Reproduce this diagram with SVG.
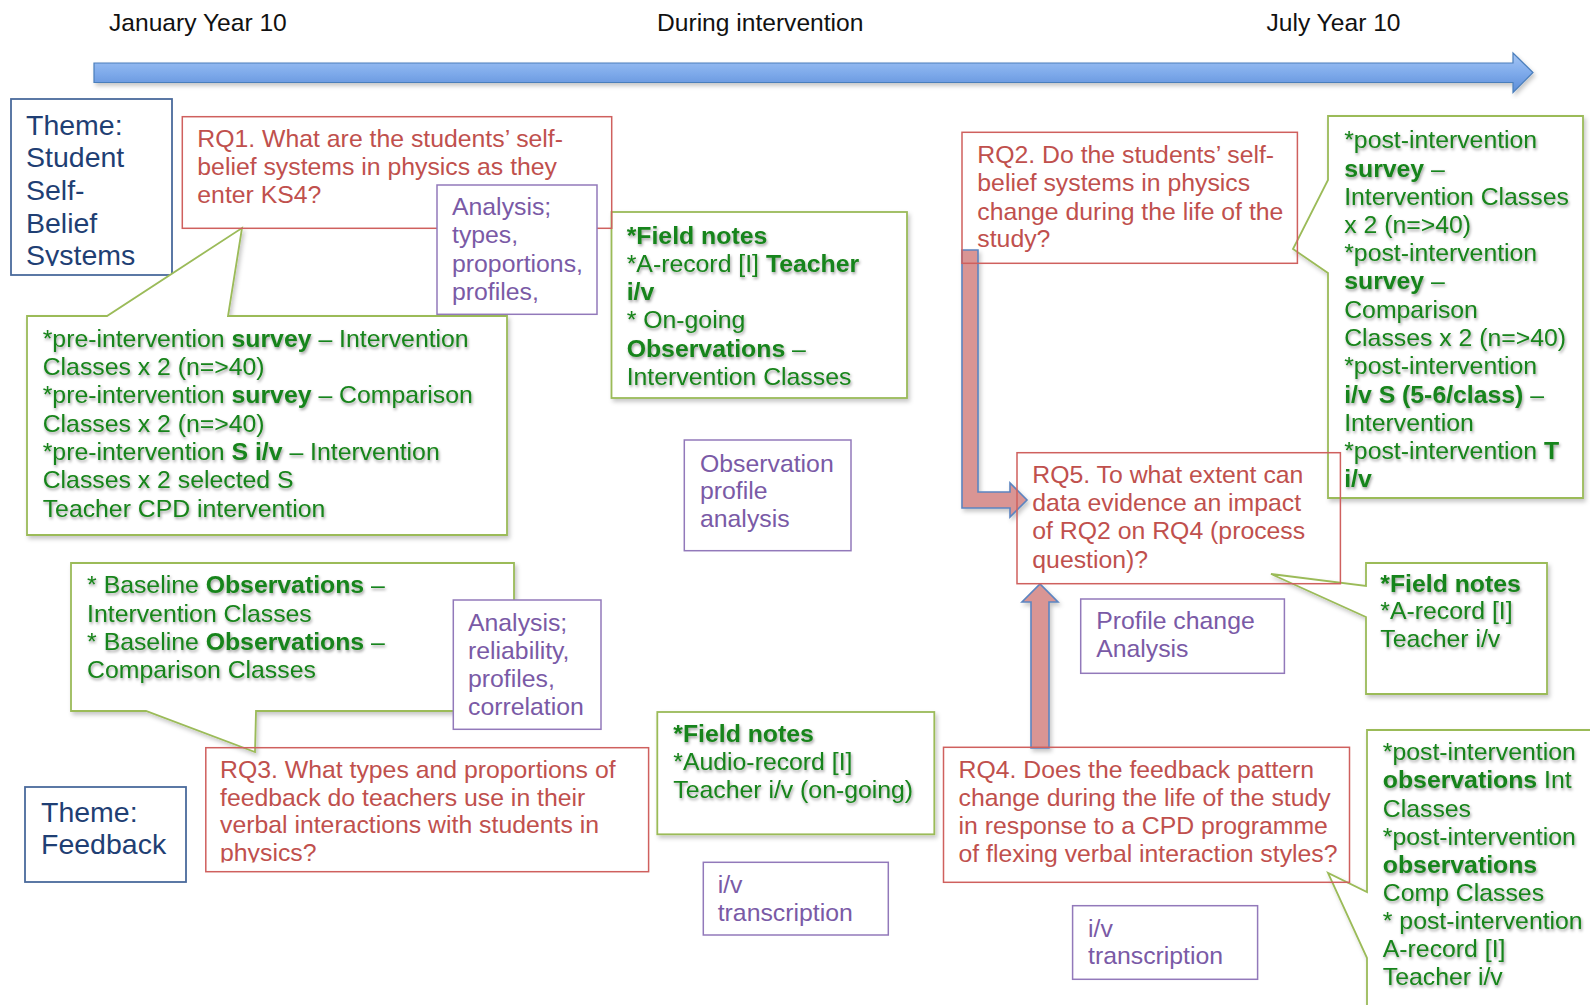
<svg xmlns="http://www.w3.org/2000/svg" width="1590" height="1005" viewBox="0 0 1590 1005">
  <defs>
    <style>
      .t { font-family: "Liberation Sans", Arial, Helvetica, sans-serif; font-size: 24.8px; }
      .theme { font-size: 28.5px; fill: #1f3f74; }
      .time { fill: #111; font-size: 24.6px; }
      .red { fill: #c0504d; }
      .pur { fill: #7a5aa6; }
      .grn { fill: #18841a; }
      .b { font-weight: bold; }
      .box-red { fill: none; stroke: #cf605e; stroke-width: 1.5; }
      .box-pur { fill: #fff; stroke: #9279ba; stroke-width: 1.5; }
      .box-grn { fill: #fff; stroke: #9bbb59; stroke-width: 1.8; }
      .box-blu { fill: #fff; stroke: #4a6a9c; stroke-width: 1.8; }
      .blk-arrow { fill: #d99594; stroke: #5b84c0; stroke-width: 1.6; }
    </style>
    <linearGradient id="timeFill" x1="0" y1="0" x2="0" y2="1">
      <stop offset="0" stop-color="#a6c6f4"/>
      <stop offset="0.5" stop-color="#7fabeb"/>
      <stop offset="1" stop-color="#5c8dd8"/>
    </linearGradient>
    <filter id="softShadow" x="-5%" y="-5%" width="115%" height="120%">
      <feDropShadow dx="2" dy="3" stdDeviation="2" flood-color="#000" flood-opacity="0.22"/>
    </filter>
    <filter id="textShadow" x="-5%" y="-10%" width="115%" height="130%">
      <feDropShadow dx="1" dy="2" stdDeviation="1.5" flood-color="#000" flood-opacity="0.38"/>
    </filter>
    <clipPath id="clipTheme1"><rect x="11" y="99" width="161" height="167"/></clipPath>
    <clipPath id="clipRq3"><rect x="206" y="748" width="443" height="114.5"/></clipPath>
  </defs>

  <rect width="1590" height="1005" fill="#fff"/>

  <!-- timeline -->
  <g id="timeline">
    <text class="t time" x="109" y="30.5">January Year 10</text>
    <text class="t time" x="657" y="30.5">During intervention</text>
    <text class="t time" x="1266.5" y="30.5">July Year 10</text>
    <path d="M94,63 L1513,63 L1513,53 L1533,72.5 L1513,92.5 L1513,82.5 L94,82.5 Z" fill="url(#timeFill)" stroke="#4a7ebb" stroke-width="1.2" filter="url(#softShadow)"/>
  </g>

  <!-- theme labels -->
  <g id="theme-self-belief">
    <rect class="box-blu" x="11" y="99" width="161" height="176"/>
    <g clip-path="url(#clipTheme1)">
      <text class="t theme" x="26" y="135">Theme:</text>
      <text class="t theme" x="26" y="167">Student</text>
      <text class="t theme" x="26" y="199.5">Self-</text>
      <text class="t theme" x="26" y="232.5">Belief</text>
      <text class="t theme" x="26" y="265">Systems</text>
    </g>
  </g>
  <g id="theme-feedback">
    <rect class="box-blu" x="25" y="787" width="161" height="95"/>
    <text class="t theme" x="41" y="821.5">Theme:</text>
    <text class="t theme" x="41" y="853.5">Feedback</text>
  </g>

  <!-- data collection callouts -->
  <g id="pre-intervention-data">
    <path class="box-grn" filter="url(#softShadow)" d="M27,316 L107,316 L242,228 L228,316 L507,316 L507,535 L27,535 Z"/>
    <g class="t grn" filter="url(#textShadow)">
      <text x="42.7" y="346.7">*pre-intervention <tspan class="b">survey</tspan> – Intervention</text>
      <text x="42.7" y="375">Classes x 2 (n=&gt;40)</text>
      <text x="42.7" y="403.3">*pre-intervention <tspan class="b">survey</tspan> – Comparison</text>
      <text x="42.7" y="431.7">Classes x 2 (n=&gt;40)</text>
      <text x="42.7" y="460">*pre-intervention <tspan class="b">S i/v</tspan> – Intervention</text>
      <text x="42.7" y="488.3">Classes x 2 selected S</text>
      <text x="42.7" y="516.7">Teacher CPD intervention</text>
    </g>
  </g>

  <g id="field-notes-ongoing">
    <rect class="box-grn" filter="url(#softShadow)" x="611.5" y="212" width="295.5" height="186"/>
    <g class="t grn" filter="url(#textShadow)">
      <text x="626.7" y="244"><tspan class="b">*Field notes</tspan></text>
      <text x="626.7" y="271.7">*A-record [I] <tspan class="b">Teacher</tspan></text>
      <text x="626.7" y="299.5"><tspan class="b">i/v</tspan></text>
      <text x="626.7" y="328.3">* On-going</text>
      <text x="626.7" y="356.7"><tspan class="b">Observations</tspan> –</text>
      <text x="626.7" y="385">Intervention Classes</text>
    </g>
  </g>

  <g id="post-intervention-data">
    <path class="box-grn" filter="url(#softShadow)" d="M1328,116 L1583,116 L1583,498 L1328,498 L1328,273 L1293,249 L1328,180 Z"/>
    <g class="t grn" filter="url(#textShadow)">
      <text x="1344.2" y="148.3">*post-intervention</text>
      <text x="1344.2" y="176.7"><tspan class="b">survey</tspan> –</text>
      <text x="1344.2" y="205">Intervention Classes</text>
      <text x="1344.2" y="232.7">x 2 (n=&gt;40)</text>
      <text x="1344.2" y="261">*post-intervention</text>
      <text x="1344.2" y="289.3"><tspan class="b">survey</tspan> –</text>
      <text x="1344.2" y="317.7">Comparison</text>
      <text x="1344.2" y="346">Classes x 2 (n=&gt;40)</text>
      <text x="1344.2" y="374">*post-intervention</text>
      <text x="1344.2" y="402.7"><tspan class="b">i/v S (5-6/class)</tspan> –</text>
      <text x="1344.2" y="431">Intervention</text>
      <text x="1344.2" y="459.3">*post-intervention <tspan class="b">T</tspan></text>
      <text x="1344.2" y="486.7"><tspan class="b">i/v</tspan></text>
    </g>
  </g>

  <g id="field-notes-rq5">
    <path class="box-grn" filter="url(#softShadow)" d="M1366,563 L1547,563 L1547,694 L1366,694 L1366,617 L1271,574 L1366,586 Z"/>
    <g class="t grn" filter="url(#textShadow)">
      <text x="1380.3" y="591.7"><tspan class="b">*Field notes</tspan></text>
      <text x="1380.3" y="619">*A-record [I]</text>
      <text x="1380.3" y="646.7">Teacher i/v</text>
    </g>
  </g>

  <g id="baseline-observations">
    <path class="box-grn" filter="url(#softShadow)" d="M71,563 L514,563 L514,711 L256,711 L255,752 L146,711 L71,711 Z"/>
    <g class="t grn" filter="url(#textShadow)">
      <text x="87.1" y="593.3">* Baseline <tspan class="b">Observations</tspan> –</text>
      <text x="87.1" y="621.7">Intervention Classes</text>
      <text x="87.1" y="650">* Baseline <tspan class="b">Observations</tspan> –</text>
      <text x="87.1" y="678.3">Comparison Classes</text>
    </g>
  </g>

  <g id="field-notes-audio">
    <rect class="box-grn" filter="url(#softShadow)" x="657.3" y="712" width="277" height="122.3"/>
    <g class="t grn" filter="url(#textShadow)">
      <text x="673.3" y="741.7"><tspan class="b">*Field notes</tspan></text>
      <text x="673.3" y="770">*Audio-record [I]</text>
      <text x="673.3" y="798.3">Teacher i/v (on-going)</text>
    </g>
  </g>

  <g id="post-intervention-observations">
    <path class="box-grn" filter="url(#softShadow)" d="M1367,730 L1600,730 L1600,1012 L1367,1012 L1367,958 L1328,873 L1367,892 Z"/>
    <g class="t grn" filter="url(#textShadow)">
      <text x="1382.8" y="760">*post-intervention</text>
      <text x="1382.8" y="788.3"><tspan class="b">observations</tspan> Int</text>
      <text x="1382.8" y="816.7">Classes</text>
      <text x="1382.8" y="845">*post-intervention</text>
      <text x="1382.8" y="873.3"><tspan class="b">observations</tspan></text>
      <text x="1382.8" y="901">Comp Classes</text>
      <text x="1382.8" y="929.3">* post-intervention</text>
      <text x="1382.8" y="957.3">A-record [I]</text>
      <text x="1382.8" y="985">Teacher i/v</text>
    </g>
  </g>

  <!-- block arrows between research questions -->
  <g id="connectors" filter="url(#softShadow)">
    <path class="blk-arrow" d="M962,250 L978,250 L978,492 L1010,492 L1010,483 L1027,500 L1010,517 L1010,508 L962,508 Z"/>
    <path class="blk-arrow" d="M1031,748 L1031,602 L1022,602 L1040,584 L1058,602 L1049,602 L1049,748 Z"/>
  </g>

  <!-- research questions -->
  <g id="rq1">
    <rect class="box-red" x="182.3" y="116.7" width="429.4" height="111.6"/>
    <g class="t red">
      <text x="197.3" y="146.7">RQ1. What are the students’ self-</text>
      <text x="197.3" y="175">belief systems in physics as they</text>
      <text x="197.3" y="203.3">enter KS4?</text>
    </g>
  </g>

  <g id="rq2">
    <rect class="box-red" x="962" y="132.3" width="335.4" height="131"/>
    <g class="t red">
      <text x="977.3" y="163.3">RQ2. Do the students’ self-</text>
      <text x="977.3" y="191">belief systems in physics</text>
      <text x="977.3" y="220">change during the life of the</text>
      <text x="977.3" y="246.7">study?</text>
    </g>
  </g>

  <g id="rq5">
    <rect class="box-red" x="1017" y="452.7" width="323.4" height="131"/>
    <g class="t red">
      <text x="1032.3" y="483.3">RQ5. To what extent can</text>
      <text x="1032.3" y="510.5">data evidence an impact</text>
      <text x="1032.3" y="539">of RQ2 on RQ4 (process</text>
      <text x="1032.3" y="567.7">question)?</text>
    </g>
  </g>

  <g id="rq3">
    <rect class="box-red" x="205.8" y="747.7" width="442.8" height="124"/>
    <g class="t red" clip-path="url(#clipRq3)">
      <text x="220" y="777.7">RQ3. What types and proportions of</text>
      <text x="220" y="805.7">feedback do teachers use in their</text>
      <text x="220" y="833.3">verbal interactions with students in</text>
      <text x="220" y="860.7">physics?</text>
    </g>
  </g>

  <g id="rq4">
    <rect class="box-red" x="943.5" y="747.3" width="406" height="135"/>
    <g class="t red">
      <text x="958.5" y="777.7">RQ4. Does the feedback pattern</text>
      <text x="958.5" y="806">change during the life of the study</text>
      <text x="958.5" y="834.3">in response to a CPD programme</text>
      <text x="958.5" y="862">of flexing verbal interaction styles?</text>
    </g>
  </g>

  <!-- analysis notes -->
  <g id="analysis-types">
    <rect class="box-pur" x="437" y="185" width="160" height="129.3"/>
    <g class="t pur">
      <text x="452" y="215">Analysis;</text>
      <text x="452" y="243.3">types,</text>
      <text x="452" y="271.7">proportions,</text>
      <text x="452" y="300">profiles,</text>
    </g>
  </g>

  <g id="observation-profile">
    <rect class="box-pur" x="684.3" y="440" width="166.7" height="110.7"/>
    <g class="t pur">
      <text x="700" y="471.7">Observation</text>
      <text x="700" y="499">profile</text>
      <text x="700" y="527.3">analysis</text>
    </g>
  </g>

  <g id="profile-change">
    <rect class="box-pur" x="1080.7" y="599" width="203.7" height="74.3"/>
    <g class="t pur">
      <text x="1096.2" y="629.3">Profile change</text>
      <text x="1096.2" y="656.7">Analysis</text>
    </g>
  </g>

  <g id="analysis-reliability">
    <rect class="box-pur" x="453.3" y="600" width="147.7" height="129.3"/>
    <g class="t pur">
      <text x="468" y="631">Analysis;</text>
      <text x="468" y="659.3">reliability,</text>
      <text x="468" y="687.3">profiles,</text>
      <text x="468" y="715">correlation</text>
    </g>
  </g>

  <g id="transcription-1">
    <rect class="box-pur" x="703.3" y="862.3" width="185" height="72.7"/>
    <g class="t pur">
      <text x="717.7" y="893.3">i/v</text>
      <text x="717.7" y="921">transcription</text>
    </g>
  </g>

  <g id="transcription-2">
    <rect class="box-pur" x="1072.6" y="905.7" width="185" height="73.6"/>
    <g class="t pur">
      <text x="1088" y="936.7">i/v</text>
      <text x="1088" y="964.3">transcription</text>
    </g>
  </g>
</svg>
